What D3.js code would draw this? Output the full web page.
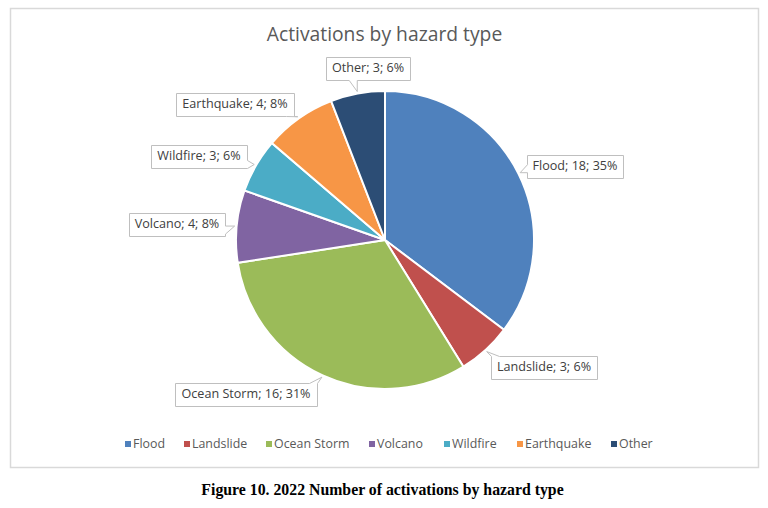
<!DOCTYPE html>
<html>
<head>
<meta charset="utf-8">
<script src="https://cdn.jsdelivr.net/npm/d3@7"></script>
<style>
  body { margin: 0; background: #fff; }
  svg text { font-family: "Open Sans", sans-serif; }
</style>
</head>
<body>
<svg id="chart" width="768" height="508"></svg>
<script>
// -- data
var categories = ["Flood", "Landslide", "Ocean Storm", "Volcano", "Wildfire", "Earthquake", "Other"];
var counts = [18, 3, 16, 4, 3, 4, 3];
var percents = ["35%", "6%", "31%", "8%", "6%", "8%", "6%"];
var colors = ["#4F81BD", "#C0504D", "#9BBB59", "#8064A2", "#4BACC6", "#F79646", "#2C4D75"];

// label box centres, relative to pie centre (layout only)
var labelOffsets = [[190, -74], [159, 127], [-139, 154], [-208, -16], [-186, -84], [-150, -136], [-17, -172]];

var svg = d3.select("#chart");
var cx = 385, cy = 240, radius = 149;

// frame
svg.append("rect").attr("x", 10.5).attr("y", 8.5).attr("width", 748).attr("height", 459)
    .style("fill", "none").style("stroke", "#d9d9d9").style("stroke-width", 1.5);

// title
svg.append("text").attr("x", 384.5).attr("y", 41).attr("text-anchor", "middle")
    .style("font-size", "19.3px").style("fill", "#595959").text("Activations by hazard type");

var pieData = d3.pie().sort(null).value(function(d){return d.value;})(
    categories.map(function(c, i){ return {name: c, value: counts[i], pct: percents[i], color: colors[i], off: labelOffsets[i]}; })
);

var arc = d3.arc().innerRadius(0).outerRadius(radius);

var g = svg.append("g").attr("transform", "translate(" + cx + "," + cy + ")");

g.selectAll(".slice").data(pieData).enter().append("path")
    .attr("class", "slice")
    .attr("d", arc)
    .style("fill", function(d){return d.data.color;})
    .style("stroke", "#fff")
    .style("stroke-width", 2);

// -- callout labels
function calloutPath(x0, y0, x1, y1, tx, ty){
    var w = 8, p;
    if (ty > y1) {
        p = Math.max(x0 + w, Math.min(x1, tx));
        return "M" + x0 + "," + y0 + "H" + x1 + "V" + y1 + "H" + p + "L" + tx + "," + ty + "L" + (p - w) + "," + y1 + "H" + x0 + "Z";
    } else if (ty < y0) {
        p = Math.max(x0, Math.min(x1 - w, tx));
        return "M" + x0 + "," + y0 + "H" + p + "L" + tx + "," + ty + "L" + (p + w) + "," + y0 + "H" + x1 + "V" + y1 + "H" + x0 + "Z";
    } else if (tx < x0) {
        p = Math.max(y0 + w, Math.min(y1, ty));
        return "M" + x0 + "," + y0 + "H" + x1 + "V" + y1 + "H" + x0 + "V" + p + "L" + tx + "," + ty + "L" + x0 + "," + (p - w) + "Z";
    } else {
        p = Math.max(y0, Math.min(y1 - w, ty));
        return "M" + x0 + "," + y0 + "H" + x1 + "V" + p + "L" + tx + "," + ty + "L" + x1 + "," + (p + w) + "V" + y1 + "H" + x0 + "Z";
    }
}

var tipArc = d3.arc().innerRadius(radius + 2).outerRadius(radius + 2);

var labels = g.selectAll(".label").data(pieData).enter().append("g").attr("class", "label");

labels.append("path").attr("class", "callout");
labels.append("text")
    .attr("x", function(d){return d.data.off[0];})
    .attr("y", function(d){return d.data.off[1];})
    .attr("dy", "0.35em")
    .attr("text-anchor", "middle")
    .style("font-size", "12.6px")
    .style("fill", "#404040")
    .text(function(d){return d.data.name + "; " + d.data.value + "; " + d.data.pct;});

labels.each(function(d){
    var t = d3.select(this).select("text").node().getBBox();
    var x0 = Math.round(t.x - 6) + 0.5, x1 = Math.round(t.x + t.width + 6) + 0.5;
    var y0 = Math.round(d.data.off[1] - 11.5) + 0.5, y1 = y0 + 23;
    var tip = tipArc.centroid(d);
    d3.select(this).select(".callout")
        .attr("d", calloutPath(x0, y0, x1, y1, tip[0], tip[1]))
        .style("fill", "#fff")
        .style("stroke", "#bfbfbf")
        .style("stroke-width", 1);
});

// -- legend
var legendX = [125, 184, 266, 369, 444, 517, 611];
var legend = svg.selectAll(".legendItem").data(categories).enter().append("g")
    .attr("class", "legendItem")
    .attr("transform", function(d, i){return "translate(" + legendX[i] + ",444)";});

legend.append("rect").attr("x", 0).attr("y", -3).attr("width", 6).attr("height", 6)
    .style("fill", function(d, i){return colors[i];});

legend.append("text").attr("x", 8).attr("dy", "0.35em")
    .style("font-size", "12.4px").style("fill", "#595959")
    .text(function(d){return d;});

// caption
svg.append("text").attr("x", 382.5).attr("y", 495).attr("text-anchor", "middle")
    .style("font-family", "'Liberation Serif', 'Times New Roman', serif")
    .style("font-weight", "bold").style("font-size", "15.8px").style("fill", "#000")
    .text("Figure 10. 2022 Number of activations by hazard type");
</script>
</body>
</html>
